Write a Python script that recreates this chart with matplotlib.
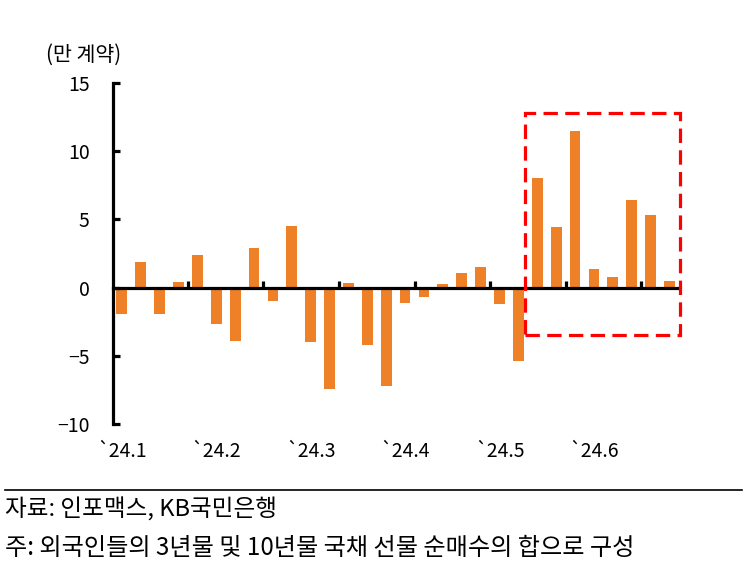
import matplotlib
matplotlib.use("Agg")
import matplotlib.pyplot as plt
from matplotlib.patches import Rectangle
from matplotlib.lines import Line2D
import matplotlib.transforms as mtransforms

plt.rcParams['font.family'] = ['Noto Sans CJK KR', 'DejaVu Sans']
plt.rcParams['axes.unicode_minus'] = True

# weekly net futures purchases (10k contracts)
values = [-1.9, 1.9, -1.9, 0.4, 2.4, -2.65, -3.9, 2.9, -0.95, 4.5,
          -3.95, -7.4, 0.35, -4.2, -7.2, -1.1, -0.65, 0.3, 1.1, 1.5,
          -1.2, -5.35, 8.0, 4.45, 11.5, 1.4, 0.8, 6.45, 5.35, 0.5]
month_labels = ['`24.1', '`24.2', '`24.3', '`24.4', '`24.5', '`24.6']
month_pos = [0, 5, 10, 15, 20, 25]
tick_pos = [3.5, 7.5, 11.5, 15.5, 19.5, 23.5, 27.5]
yticks = [-10, -5, 0, 5, 10, 15]
highlight_x = (21.33, 29.55)
highlight_y = (-3.47, 12.76)

fig = plt.figure(figsize=(7.49, 5.76), dpi=100)
ax = fig.add_axes([0.1513, 0.2634, 0.7539, 0.593])

x = list(range(len(values)))
ax.bar(x, values, width=0.57, color='#EE8127', zorder=1)

ax.set_xlim(-0.45, 29.45)
ax.set_ylim(-10, 15)
ax.set_yticks(yticks)
ax.set_yticklabels([f"{v}".replace('-', '\u2212') for v in yticks], fontsize=14)
ax.set_xticks(tick_pos)
ax.set_xticklabels([])

for s in ['top', 'right']:
    ax.spines[s].set_visible(False)
ax.spines['left'].set_linewidth(2.3)
ax.spines['bottom'].set_linewidth(2.3)
ax.spines['bottom'].set_position(('data', 0))
ax.spines['bottom'].set_zorder(3)
ax.tick_params(axis='y', direction='in', length=5, width=2.3, pad=17)
ax.tick_params(axis='x', direction='in', length=5, width=2.3)

trans = mtransforms.blended_transform_factory(ax.transData, ax.transAxes)
for p, lab in zip(month_pos, month_labels):
    ax.text(p, -0.08, lab, transform=trans, ha='center', va='center', fontsize=14)

rect = Rectangle((highlight_x[0], highlight_y[0]), highlight_x[1] - highlight_x[0],
                 highlight_y[1] - highlight_y[0], fill=False, edgecolor='#FF0000',
                 linewidth=2.3, linestyle=(0, (4.5, 2.3)), clip_on=False, zorder=4)
ax.add_patch(rect)

fig.text(46 / 749, 1 - 55 / 576, '(만 계약)', ha='left', va='center', fontsize=14.8,
         fontweight='medium')

fig.add_artist(Line2D([5 / 749, 742 / 749], [1 - 490.3 / 576] * 2, color='black', linewidth=1.2))
fig.text(5 / 749, 1 - 510 / 576, '자료: 인포맥스, KB국민은행', ha='left', va='center', fontsize=17)
fig.text(5 / 749, 1 - 548 / 576, '주: 외국인들의 3년물 및 10년물 국채 선물 순매수의 합으로 구성',
         ha='left', va='center', fontsize=17.4)

fig.savefig('out.png', dpi=100)
